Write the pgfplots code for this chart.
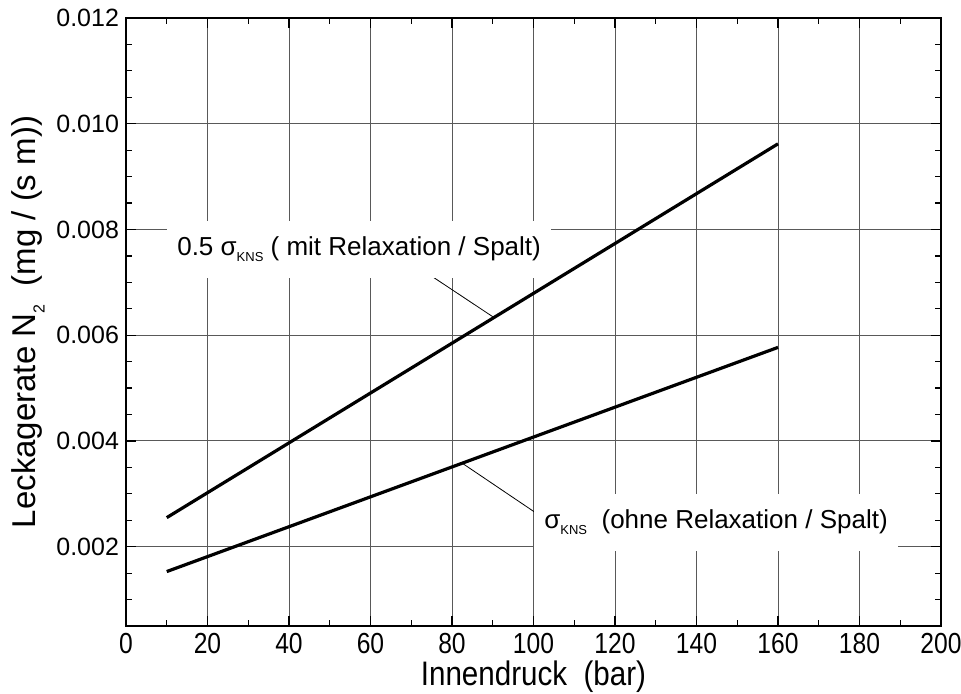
\documentclass[border=0pt]{standalone}
\usepackage{pgfplots}
\pgfplotsset{compat=1.18}
\usepackage{fontspec}
\setmainfont{Liberation Sans}

\newcommand{\kns}{\raisebox{-0.45ex}{\fontsize{6.5}{7}\selectfont KNS}}

\begin{document}
\begin{tikzpicture}
\begin{axis}[
    name=ax,
    scale only axis,
    width=407.5pt, height=304pt,
    xmin=0, xmax=200,
    ymin=0.0005, ymax=0.012,
    xtick distance=20,
    minor x tick num=1,
    ytick={0.002,0.004,0.006,0.008,0.010,0.012},
    minor ytick={0.0005,0.001,0.0015,0.0025,0.003,0.0035,0.0045,0.005,0.0055,0.0065,0.007,0.0075,0.0085,0.009,0.0095,0.0105,0.011,0.0115},
    scaled y ticks=false,
    /pgf/number format/assume math mode=true,
    yticklabel style={font=\fontsize{12.5}{14}\selectfont,
        /pgf/number format/.cd, fixed, fixed zerofill, precision=3},
    xticklabel style={font=\fontsize{14.5}{16}\selectfont},
    xticklabel={\scalebox{0.85}[1]{\pgfmathprintnumber{\tick}}},
    xlabel style={font=\fontsize{17}{19}\selectfont, yshift=3pt},
    ylabel style={font=\fontsize{16.5}{19}\selectfont, yshift=-1pt},
    xlabel={\scalebox{0.87}[1]{Innendruck\ \ (bar)}},
    ylabel={Leckagerate N\raisebox{-0.5ex}{\fontsize{8}{9}\selectfont 2}\ \ (mg / (s m))},
    tick align=inside,
    major tick length=5pt,
    minor tick length=3pt,
    tick style={black, line width=0.6pt},
    axis line style={black, line width=0.9pt},
    grid=major,
    major grid style={black!65, line width=0.5pt},
    clip=false,
]
\addplot [black, line width=1.6pt] coordinates {(10,0.00255) (160,0.00962)};
\addplot [black, line width=1.6pt] coordinates {(10,0.00153) (160,0.00577)};
% leader lines
\addplot [black, line width=0.4pt] coordinates {(73,0.00722) (90,0.00635)};
\addplot [black, line width=0.4pt] coordinates {(82.5,0.00358) (102.3,0.00255)};
\node [fill=white, anchor=base, inner xsep=5pt, inner ysep=8pt,
       font=\fontsize{13}{15}\selectfont]
  at (axis cs:57.2,0.00751) {0.5 σ\kns\ ( mit Relaxation / Spalt)};
\node [fill=white, anchor=base, inner xsep=5pt, inner ysep=8pt,
       font=\fontsize{13}{15}\selectfont]
  at (axis cs:144.8,0.00234) {σ\kns\ \ (ohne Relaxation / Spalt)};
\end{axis}
\pgfresetboundingbox
\path ([xshift=-63pt,yshift=-33.5pt]ax.south west) rectangle ([xshift=10pt,yshift=9pt]ax.north east);
\end{tikzpicture}
\end{document}
